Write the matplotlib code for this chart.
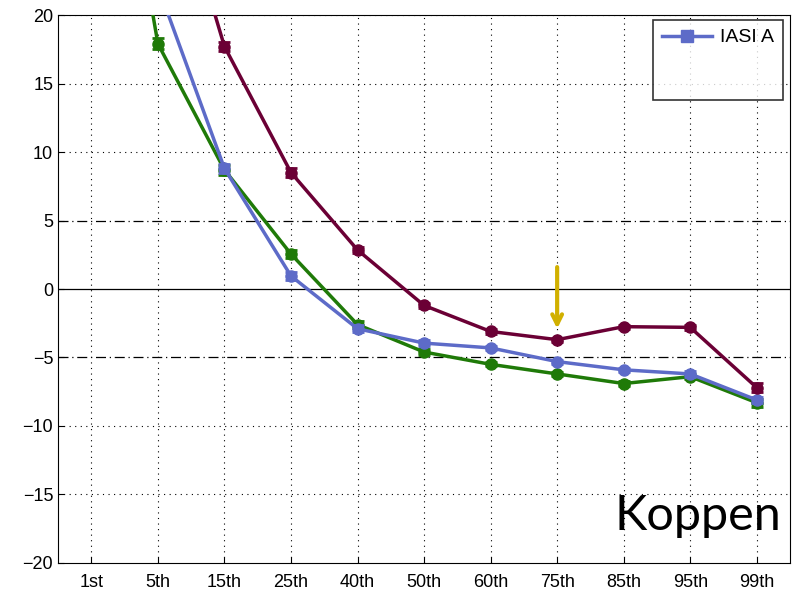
import numpy as np
import matplotlib.pyplot as plt
from matplotlib.lines import Line2D

percentiles = ['1st', '5th', '15th', '25th', '40th', '50th', '60th', '75th', '85th', '95th', '99th']
iasi_a = [40.0, 22.1, 8.8, 0.95, -2.9, -3.95, -4.3, -5.3, -5.9, -6.2, -8.1]
green_series = [46.0, 17.9, 8.7, 2.55, -2.6, -4.6, -5.5, -6.2, -6.9, -6.4, -8.3]
purple_series = [50.0, 34.0, 17.7, 8.5, 2.85, -1.2, -3.1, -3.7, -2.75, -2.8, -7.2]
err_green = [0.4, 0.4, 0.35, 0.3, 0.25, 0.2, 0.15, 0.15, 0.15, 0.2, 0.3]
err_blue = [0.4, 0.4, 0.35, 0.3, 0.25, 0.2, 0.15, 0.15, 0.15, 0.2, 0.25]
err_purple = [0.4, 0.4, 0.3, 0.3, 0.25, 0.2, 0.15, 0.15, 0.15, 0.2, 0.35]

blue = '#5d6bc8'
green = '#1f7a08'
purple = '#6b0035'

plt.rcParams['font.family'] = ['Liberation Sans', 'DejaVu Sans']
fig = plt.figure(figsize=(7.96, 5.96), dpi=100)
ax = fig.add_axes([0.073, 0.0554, 0.9195, 0.9194])
x = np.arange(1, len(percentiles) + 1)

# grid
for yv in [20, 15, 10, -10, -15]:
    ax.axhline(yv, color='black', lw=0.8, ls=(0, (1, 4)), zorder=1)
for xv in x:
    ax.axvline(xv, color='black', lw=0.8, ls=(0, (1, 4)), zorder=1)
ax.axhline(0, color='black', lw=0.9, zorder=1)
for yv in [5, -5]:
    ax.axhline(yv, color='black', lw=0.9, ls=(0, (8, 3, 1, 3)), zorder=1)

ax.errorbar(x, green_series, yerr=err_green, color=green, lw=2.5, marker='o', ms=8,
            capsize=4, capthick=2, elinewidth=2, zorder=3)
ax.errorbar(x, iasi_a, yerr=err_blue, color=blue, lw=2.5, marker='o', ms=8,
            capsize=4, capthick=2, elinewidth=2, zorder=4)
ax.errorbar(x, purple_series, yerr=err_purple, color=purple, lw=2.5, marker='o', ms=8,
            capsize=4, capthick=2, elinewidth=2, zorder=5)

ax.set_xlim(0.5, 11.5)
ax.set_ylim(-20, 20)
ax.set_xticks(x)
ax.set_xticklabels(percentiles)
ax.set_yticks(np.arange(-20, 21, 5))
ax.tick_params(labelsize=13, direction='in', length=4)
ax.tick_params(axis='x', pad=8)

# arrow at 75th
ax.annotate('', xy=(8, -2.9), xytext=(8, 1.6),
            arrowprops=dict(arrowstyle='->,head_width=0.35,head_length=0.7', color='#d1b000',
                            lw=3, shrinkA=0, shrinkB=0), zorder=6)

ax.text(0.988, 0.045, 'Koppen', transform=ax.transAxes, ha='right', va='bottom',
        fontsize=35, family=['Lato', 'DejaVu Sans'])

handles = [Line2D([], [], color=blue, lw=2.5, marker='s', ms=8),
           Line2D([], [], color='none'), Line2D([], [], color='none')]
leg = ax.legend(handles, ['IASI A', ' ', ' '], loc='upper right', fontsize=14,
                frameon=True, fancybox=False, edgecolor='black', borderaxespad=0,
                handlelength=2.6, handletextpad=0.4, borderpad=0.45, labelspacing=0.25,
                bbox_to_anchor=(0.9904, 0.9909))
leg.get_frame().set_linewidth(1.2)

fig.savefig('out.png', dpi=100)
